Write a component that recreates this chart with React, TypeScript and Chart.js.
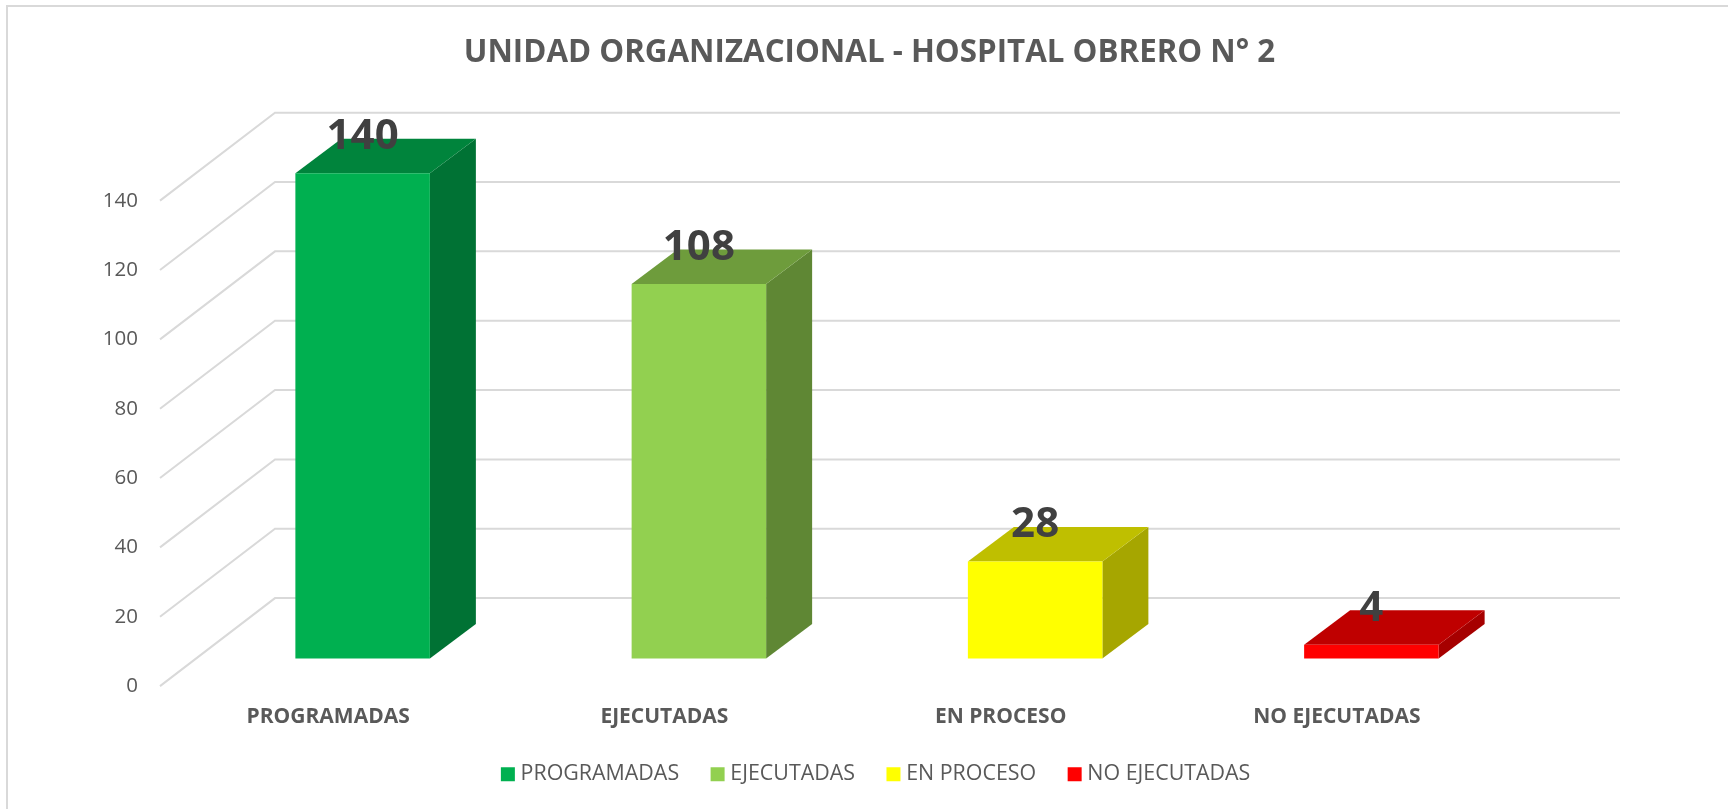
import React, { useEffect, useRef } from "react";
import { Chart, registerables } from "chart.js";

Chart.register(...registerables);

const categories = ["PROGRAMADAS", "EJECUTADAS", "EN PROCESO", "NO EJECUTADAS"];
const values = [140, 108, 28, 4];
const colors = ["#00B050", "#92D050", "#FFFF00", "#FF0000"];
const titleText = "UNIDAD ORGANIZACIONAL - HOSPITAL OBRERO N° 2";
const FONT = '"Open Sans", sans-serif';

const WALL_DX = 115;
const WALL_DY = -88;
const BAR_SHIFT_X = 34.5;
const BAR_SHIFT_Y = -27.5;
const BAR_DX = 46;
const BAR_DY = -34.5;
const GRID = "#D9D9D9";

function shade(hex: string, k: number) {
  const n = parseInt(hex.slice(1), 16);
  const c = [(n >> 16) & 255, (n >> 8) & 255, n & 255].map((v) => Math.round(v * k));
  return `rgb(${c[0]},${c[1]},${c[2]})`;
}

function poly(ctx: CanvasRenderingContext2D, pts: number[][], fill: string) {
  ctx.beginPath();
  pts.forEach((p, i) => (i ? ctx.lineTo(p[0], p[1]) : ctx.moveTo(p[0], p[1])));
  ctx.closePath();
  ctx.fillStyle = fill;
  ctx.fill();
}

const frame3d = {
  id: "frame3d",
  afterLayout(chart: any) {
    // Category labels sit in the band shared with the legend's top padding.
    chart.scales.x.bottom = chart.scales.x.top + 60;
    chart.legend.left += 8.6;
    chart.legend.right += 8.6;
  },
  beforeDraw(chart: any) {
    const { ctx, width, height } = chart;
    ctx.save();
    ctx.strokeStyle = GRID;
    ctx.lineWidth = 2;
    ctx.strokeRect(7, 6, width + 40, height + 40);
    ctx.restore();
  },
  beforeDatasetsDraw(chart: any) {
    const { ctx, chartArea, scales } = chart;
    ctx.save();
    ctx.strokeStyle = GRID;
    ctx.lineWidth = 2;
    scales.y.ticks.forEach((t: any) => {
      const py = scales.y.getPixelForValue(t.value);
      ctx.beginPath();
      ctx.moveTo(chartArea.left, py);
      ctx.lineTo(chartArea.left + WALL_DX, py + WALL_DY);
      ctx.lineTo(chartArea.right + WALL_DX, py + WALL_DY);
      ctx.stroke();
    });
    const meta = chart.getDatasetMeta(0);
    meta.data.forEach((bar: any, i: number) => {
      const l = bar.x - bar.width / 2 + BAR_SHIFT_X;
      const r = bar.x + bar.width / 2 + BAR_SHIFT_X;
      const top = bar.y + BAR_SHIFT_Y;
      const bot = bar.base + BAR_SHIFT_Y;
      poly(ctx, [[r, top], [r + BAR_DX, top + BAR_DY], [r + BAR_DX, bot + BAR_DY], [r, bot]], shade(colors[i], 0.65));
      poly(ctx, [[l, top], [l + BAR_DX, top + BAR_DY], [r + BAR_DX, top + BAR_DY], [r, top]], shade(colors[i], 0.75));
    });
    ctx.restore();
  },
  beforeDatasetDraw(chart: any) {
    chart.ctx.save();
    chart.ctx.translate(BAR_SHIFT_X, BAR_SHIFT_Y);
  },
  afterDatasetDraw(chart: any) {
    chart.ctx.restore();
  },
  afterDatasetsDraw(chart: any) {
    const { ctx } = chart;
    const meta = chart.getDatasetMeta(0);
    ctx.save();
    ctx.font = `bold 42px ${FONT}`;
    ctx.fillStyle = "#404040";
    ctx.textAlign = "center";
    ctx.textBaseline = "middle";
    meta.data.forEach((bar: any, i: number) => {
      ctx.fillText(String(values[i]), bar.x + BAR_SHIFT_X, bar.y + BAR_SHIFT_Y - 36);
    });
    ctx.restore();
  },
};

export default function App() {
  const ref = useRef<HTMLCanvasElement>(null);
  useEffect(() => {
    document.body.style.margin = "0";
    const chart = new Chart(ref.current as HTMLCanvasElement, {
      type: "bar",
      data: {
        labels: categories,
        datasets: [
          {
            label: "Unidad",
            data: values,
            backgroundColor: colors,
            barPercentage: 0.4,
            categoryPercentage: 1,
            clip: false,
          } as any,
        ],
      },
      plugins: [frame3d],
      options: {
        animation: false,
        responsive: false,
        layout: { padding: { left: 11, right: 0, top: 0, bottom: 14 } },
        plugins: {
          tooltip: { enabled: false },
          title: {
            display: true,
            text: titleText,
            color: "#595959",
            font: { family: FONT, size: 31.3, weight: "bold" },
            padding: { top: 34.7, bottom: 128.4 },
          },
          legend: {
            position: "bottom",
            labels: {
              boxWidth: 4,
              boxHeight: 4,
              padding: 36.5,
              color: "#595959",
              font: { family: FONT, size: 21.4 },
              generateLabels: () =>
                categories.map((c, i) => ({
                  text: c,
                  fillStyle: colors[i],
                  strokeStyle: colors[i],
                  lineWidth: 10,
                  fontColor: "#595959",
                  hidden: false,
                  index: i,
                })),
            },
          },
        },
        scales: {
          x: {
            grid: { display: false },
            border: { display: false },
            ticks: { color: "#595959", font: { family: FONT, size: 21, weight: "bold" }, padding: 10 },
            afterFit: (s: any) => {
              s.height = 41;
            },
          },
          y: {
            min: 0,
            max: 140,
            grid: { display: false, drawTicks: false },
            border: { display: false },
            ticks: { stepSize: 20, color: "#595959", font: { family: FONT, size: 20.5 }, padding: 22 },
            afterFit: (s: any) => {
              s.width = 149;
            },
          },
          yRight: {
            position: "right",
            grid: { display: false },
            border: { display: false },
            ticks: { display: false },
            afterFit: (s: any) => {
              s.width = 223;
            },
          },
        },
      } as any,
    });
    return () => chart.destroy();
  }, []);
  return <canvas ref={ref} width={1728} height={809} style={{ display: "block" }} />;
}
